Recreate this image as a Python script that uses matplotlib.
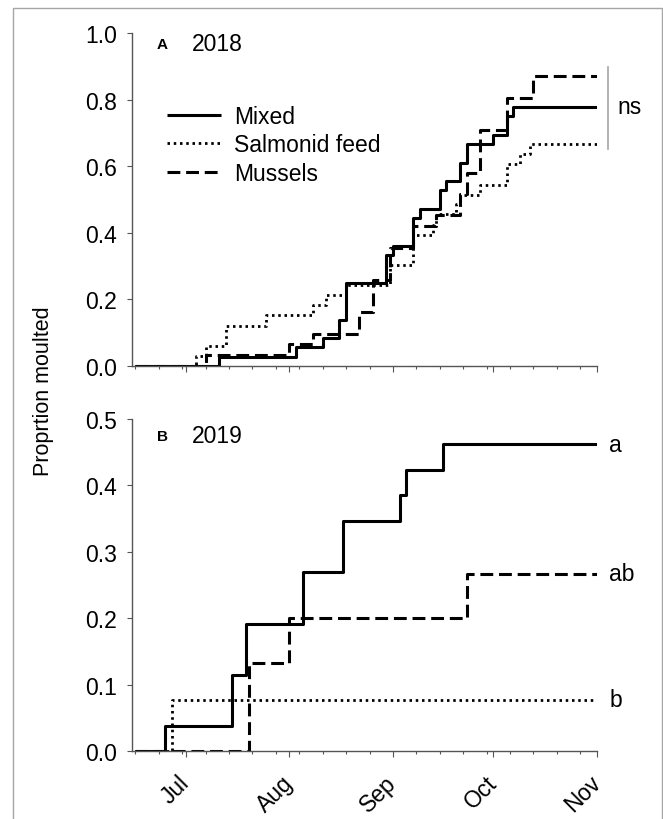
import matplotlib
matplotlib.use('Agg')
import matplotlib.pyplot as plt
import matplotlib.dates as mdates
import matplotlib.transforms as mtransforms
from matplotlib.patches import Rectangle
from matplotlib.ticker import FixedLocator, MultipleLocator, FormatStrFormatter
import numpy as np
import pandas as pd

plt.rcParams['font.family'] = ['Liberation Sans', 'DejaVu Sans']

# ---------------- data ----------------
groups = ['Mixed', 'Salmonid feed', 'Mussels']
month_labels = ['Jul', 'Aug', 'Sep', 'Oct', 'Nov']

# Panel A, 2018 (dates of each step, cumulative proportion moulted after it)
a_mixed_dates = ['07-11', '08-03', '08-11', '08-16', '08-18', '08-30', '09-01', '09-07',
                 '09-09', '09-15', '09-17', '09-21', '09-23', '10-01', '10-05', '10-07']
a_mixed_vals = [0.028, 0.056, 0.083, 0.139, 0.250, 0.333, 0.361, 0.444,
                0.472, 0.528, 0.556, 0.611, 0.667, 0.694, 0.750, 0.778]

a_salmon_dates = ['07-04', '07-07', '07-13', '07-25', '08-08', '08-12', '08-18', '08-31',
                  '09-07', '09-13', '09-14', '09-20', '09-21', '09-27', '10-05', '10-09', '10-12']
a_salmon_vals = [0.030, 0.061, 0.121, 0.152, 0.182, 0.212, 0.242, 0.303,
                 0.394, 0.424, 0.455, 0.485, 0.515, 0.545, 0.606, 0.636, 0.667]

a_mussel_dates = ['07-07', '08-01', '08-08', '08-22', '08-26', '08-31', '09-07', '09-14',
                  '09-21', '09-23', '09-27', '10-05', '10-13']
a_mussel_vals = [0.032, 0.065, 0.097, 0.161, 0.258, 0.355, 0.419, 0.452,
                 0.516, 0.581, 0.710, 0.806, 0.871]

# Panel B, 2019
b_mixed_dates = ['06-25', '07-15', '07-19', '08-05', '08-17', '09-03', '09-05', '09-16']
b_mixed_vals = [0.038, 0.115, 0.192, 0.269, 0.346, 0.385, 0.423, 0.462]

b_salmon_dates = ['06-27']
b_salmon_vals = [0.077]

b_mussel_dates = ['07-20', '08-01', '09-23']
b_mussel_vals = [0.133, 0.200, 0.267]

sig_letters_b = ['a', 'b', 'ab']   # Mixed, Salmonid feed, Mussels

# ---------------- styling ----------------
W, H = 663, 820
FS = 16.5
fig = plt.figure(figsize=(W / 100, H / 100), dpi=100)
fig.patch.set_facecolor('white')
fig.patches.append(Rectangle((13 / W, -0.01), (661.5 - 13) / W, 1.01 - 9 / H,
                             transform=fig.transFigure, fill=False,
                             edgecolor='#a6a6a6', linewidth=1.0))

spine_col = '#555555'
line_kw = {
    'Mixed': dict(linestyle='-', linewidth=2.2),
    'Salmonid feed': dict(linestyle=(0, (0.9, 1.35)), linewidth=2.0),
    'Mussels': dict(linestyle=(0, (4.2, 1.9)), linewidth=2.2),
}

def make_axes(rect, year, ymax, ystep):
    ax = fig.add_axes(rect)
    for s in ['top', 'right']:
        ax.spines[s].set_visible(False)
    for s in ['left', 'bottom']:
        ax.spines[s].set_color(spine_col)
        ax.spines[s].set_linewidth(1.0)
    start = pd.Timestamp(f'{year}-06-15')
    end = pd.Timestamp(f'{year}-11-01')
    ax.set_xlim(start, end)
    ax.set_ylim(0, ymax)
    ax.yaxis.set_major_locator(MultipleLocator(ystep))
    ax.yaxis.set_major_formatter(FormatStrFormatter('%.1f'))
    ax.xaxis.set_major_locator(mdates.MonthLocator(bymonth=[7, 8, 9, 10, 11]))
    ax.xaxis.set_major_formatter(mdates.DateFormatter('%b'))
    minors = pd.date_range(f'{year}-06-16', f'{year}-10-31', freq='7D')
    ax.xaxis.set_minor_locator(FixedLocator(mdates.date2num(minors)))
    ax.tick_params(axis='y', which='major', direction='out', length=3.8, width=0.8,
                   color=spine_col, labelsize=FS, pad=7)
    ax.tick_params(axis='x', which='major', direction='out', length=4, width=0.8,
                   color=spine_col, labelsize=FS, pad=16)
    ax.tick_params(axis='x', which='minor', direction='out', length=2.4, width=0.8,
                   color=spine_col)
    return ax, start, end

def draw(ax, year, dates, vals, start, end, name):
    x = [start + pd.Timedelta(days=1)] + [pd.Timestamp(f'{year}-{d}') for d in dates] + [end]
    y = [0.0] + list(vals) + [vals[-1]]
    ax.plot(x, y, drawstyle='steps-post', color='black', label=name,
            solid_capstyle='butt', **line_kw[name])

# ---------------- panel A ----------------
axA, sA, eA = make_axes([132 / W, 1 - 367 / H, 465 / W, 333 / H], 2018, 1.0, 0.2)
draw(axA, 2018, a_mixed_dates, a_mixed_vals, sA, eA, 'Mixed')
draw(axA, 2018, a_salmon_dates, a_salmon_vals, sA, eA, 'Salmonid feed')
draw(axA, 2018, a_mussel_dates, a_mussel_vals, sA, eA, 'Mussels')
axA.tick_params(axis='x', labelbottom=False)

axA.text(0.054, 0.967, 'A', transform=axA.transAxes, fontsize=11, fontweight='bold',
         ha='left', va='center')
axA.text(0.129, 0.967, '2018', transform=axA.transAxes, fontsize=FS,
         ha='left', va='center')

leg = axA.legend(loc='upper left', bbox_to_anchor=(0.075, 0.784), frameon=False,
                 fontsize=FS, handlelength=2.35, handletextpad=0.6,
                 labelspacing=0.24, borderpad=0, borderaxespad=0)

trA = mtransforms.blended_transform_factory(axA.transAxes, axA.transData)
axA.plot([1.023, 1.023], [0.652, 0.898], transform=trA, color='#a6a6a6',
         linewidth=1.2, clip_on=False)
axA.text(1.043, 0.778, 'ns', transform=trA, fontsize=FS, ha='left', va='center')

# ---------------- panel B ----------------
axB, sB, eB = make_axes([132 / W, 1 - 752 / H, 465 / W, 332 / H], 2019, 0.5, 0.1)
draw(axB, 2019, b_mixed_dates, b_mixed_vals, sB, eB, 'Mixed')
draw(axB, 2019, b_salmon_dates, b_salmon_vals, sB, eB, 'Salmonid feed')
draw(axB, 2019, b_mussel_dates, b_mussel_vals, sB, eB, 'Mussels')

for lab in axB.get_xticklabels():
    lab.set_rotation(45)
    lab.set_ha('right')
    lab.set_va('center')
    lab.set_rotation_mode('anchor')

axB.text(0.054, 0.95, 'B', transform=axB.transAxes, fontsize=11, fontweight='bold',
         ha='left', va='center')
axB.text(0.129, 0.95, '2019', transform=axB.transAxes, fontsize=FS,
         ha='left', va='center')

trB = mtransforms.blended_transform_factory(axB.transAxes, axB.transData)
finals_b = [b_mixed_vals[-1], b_salmon_vals[-1], b_mussel_vals[-1]]
for letter, v in zip(sig_letters_b, finals_b):
    axB.text(1.026, v, letter, transform=trB, fontsize=FS, ha='left', va='center')

fig.text(44 / W, 1 - 391 / H, 'Proprtion moulted', rotation=90, fontsize=15.5,
         ha='center', va='center')

fig.savefig('out.png', dpi=100, facecolor='white')
